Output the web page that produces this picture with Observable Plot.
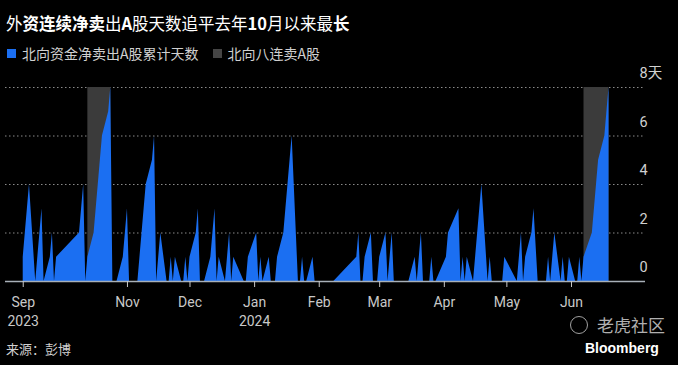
<!DOCTYPE html>
<html>
<head>
<meta charset="utf-8">
<script src="https://cdn.jsdelivr.net/npm/d3@7"></script>
<script src="https://cdn.jsdelivr.net/npm/@observablehq/plot@0.6"></script>
<style>
  html, body { margin: 0; padding: 0; background: #000; }
  #wrap { position: relative; width: 678px; height: 365px; overflow: hidden; background: #000;
          font-family: "Noto Sans CJK SC", "Noto Sans", sans-serif; }
  .title { position: absolute; left: 6px; top: 12px; font-size: 16.5px; line-height: 22px; color: #fff; white-space: nowrap; }
  .title b { font-weight: 700; }
  .legend { position: absolute; left: 7px; top: 43px; font-size: 14px; line-height: 20px; color: #d0d0d0; white-space: nowrap; display: flex; align-items: center; }
  .legend .sw { display: inline-block; width: 9px; height: 9px; margin-right: 6px; }
  .legend .item { display: inline-flex; align-items: center; margin-right: 14px; }
  #chart { position: absolute; left: 0; top: 62px; }
  .caption { position: absolute; left: 6px; top: 340px; font-size: 13px; line-height: 18px; color: #d0d0d0; }
  .brand { position: absolute; left: 585px; top: 339px; font-family: "Liberation Sans", Arial, sans-serif; font-weight: 700; font-size: 14px; line-height: 18px; color: #fff; }
  .wm { position: absolute; left: 570px; top: 314px; display: flex; align-items: center; color: #b0b0b0; font-size: 17px; line-height: 22px; }
  .wm .ic { width: 16px; height: 16px; border: 1.5px solid #a0a0a0; border-radius: 50%; margin-right: 9px; }
</style>
</head>
<body>
<div id="wrap">
  <div class="title">外<b>资连续净卖</b>出<b>A</b>股天数追平去年<b>10</b>月以来最<b>长</b></div>
  <div class="legend">
    <span class="item"><span class="sw" style="background:#1b6ff2"></span>北向资金净卖出A股累计天数</span>
    <span class="item"><span class="sw" style="background:#454545"></span>北向八连卖A股</span>
  </div>
  <div id="chart"></div>
  <div class="wm"><span class="ic"></span>老虎社区</div>
  <div class="caption">来源：彭博</div>
  <div class="brand">Bloomberg</div>
</div>
<script>
// Trading days and consecutive net-sell day counts (northbound funds)
const dates = [
  "2023-09-12","2023-09-13","2023-09-14","2023-09-15","2023-09-18","2023-09-19","2023-09-20","2023-09-21","2023-09-22",
  "2023-09-25","2023-09-26","2023-09-27","2023-09-28","2023-10-09","2023-10-10","2023-10-11","2023-10-12","2023-10-13",
  "2023-10-16","2023-10-17","2023-10-18","2023-10-19","2023-10-20","2023-10-23","2023-10-24","2023-10-25","2023-10-26",
  "2023-10-27","2023-10-30","2023-10-31","2023-11-01","2023-11-02","2023-11-03","2023-11-06","2023-11-07","2023-11-08",
  "2023-11-09","2023-11-10","2023-11-13","2023-11-14","2023-11-15","2023-11-16","2023-11-17","2023-11-20","2023-11-21",
  "2023-11-22","2023-11-23","2023-11-24","2023-11-27","2023-11-28","2023-11-29","2023-11-30","2023-12-01","2023-12-04",
  "2023-12-05","2023-12-06","2023-12-07","2023-12-08","2023-12-11","2023-12-12","2023-12-13","2023-12-14","2023-12-15",
  "2023-12-18","2023-12-19","2023-12-20","2023-12-21","2023-12-22","2023-12-27","2023-12-28","2023-12-29","2024-01-02",
  "2024-01-03","2024-01-04","2024-01-05","2024-01-08","2024-01-09","2024-01-10","2024-01-11","2024-01-12","2024-01-15",
  "2024-01-16","2024-01-17","2024-01-18","2024-01-19","2024-01-22","2024-01-23","2024-01-24","2024-01-25","2024-01-26",
  "2024-01-29","2024-01-30","2024-01-31","2024-02-01","2024-02-02","2024-02-05","2024-02-06","2024-02-07","2024-02-08",
  "2024-02-19","2024-02-20","2024-02-21","2024-02-22","2024-02-23","2024-02-26","2024-02-27","2024-02-28","2024-02-29",
  "2024-03-01","2024-03-04","2024-03-05","2024-03-06","2024-03-07","2024-03-08","2024-03-11","2024-03-12","2024-03-13",
  "2024-03-14","2024-03-15","2024-03-18","2024-03-19","2024-03-20","2024-03-21","2024-03-22","2024-03-25","2024-03-26",
  "2024-03-27","2024-03-28","2024-04-02","2024-04-03","2024-04-08","2024-04-09","2024-04-10","2024-04-11","2024-04-12",
  "2024-04-15","2024-04-16","2024-04-17","2024-04-18","2024-04-19","2024-04-22","2024-04-23","2024-04-24","2024-04-25",
  "2024-04-26","2024-04-29","2024-04-30","2024-05-06","2024-05-07","2024-05-08","2024-05-09","2024-05-10","2024-05-13",
  "2024-05-14","2024-05-16","2024-05-17","2024-05-20","2024-05-21","2024-05-22","2024-05-23","2024-05-24","2024-05-27",
  "2024-05-28","2024-05-29","2024-05-30","2024-05-31","2024-06-03","2024-06-04","2024-06-05","2024-06-06","2024-06-07",
  "2024-06-11","2024-06-12","2024-06-13","2024-06-14","2024-06-17","2024-06-18","2024-06-19"
];
const sellDays = [
  1,2,3,4,0,1,2,3,0,
  1,2,0,1,2,3,4,0,1,
  2,3,4,5,6,7,8,0,0,
  0,1,2,3,0,0,0,1,2,
  3,4,5,6,0,1,2,0,0,
  1,0,1,0,0,1,0,1,2,
  3,0,0,0,1,2,3,0,1,
  0,1,2,0,1,0,0,1,2,
  0,1,0,1,0,0,0,1,2,
  3,4,5,6,0,0,1,0,0,
  1,0,0,0,0,0,0,0,0,
  1,2,0,0,1,2,0,0,0,
  1,2,0,1,2,0,0,0,0,
  0,0,1,0,1,2,0,0,1,
  0,0,1,2,3,0,1,0,1,
  0,1,2,3,4,0,1,0,0,
  0,0,1,0,1,2,0,1,2,
  3,0,0,0,1,0,1,2,0,
  1,0,0,1,0,0,1,0,1,
  2,3,4,5,6,7,8
];
// 8-day net-selling streaks (shaded)
const streakStart = ["2023-10-13", "2024-06-07"];
const streakEnd   = ["2023-10-24", "2024-06-19"];
const streakLen   = [8, 8];
// x-axis ticks
const tickDates  = ["2023-09-12","2023-11-01","2023-12-01","2024-01-01","2024-02-01","2024-03-01","2024-04-01","2024-05-01","2024-06-01"];
const tickLabels = ["Sep\n2023","Nov","Dec","Jan\n2024","Feb","Mar","Apr","May","Jun"];
const yTicks = [0, 2, 4, 6, 8];

const data = dates.map((d, i) => ({date: new Date(d), v: sellDays[i]}));
const bands = streakStart.map((s, i) => ({x1: new Date(s), x2: new Date(streakEnd[i]), top: streakLen[i]}));
const tickDateObjs = tickDates.map(d => new Date(d));
const labelByTime = new Map(tickDateObjs.map((d, i) => [+d, tickLabels[i]]));

const blue = "#1b6ff2";

const chart = Plot.plot({
  width: 678,
  height: 275,
  marginLeft: 5,
  marginRight: 33,
  marginTop: 25,
  marginBottom: 56,
  style: {background: "#000", color: "#c8c8c8", fontFamily: "Roboto, 'Noto Sans CJK SC', sans-serif", fontSize: "14px"},
  x: {type: "utc", domain: [new Date("2023-09-03T12:00:00Z"), new Date("2024-07-06T12:00:00Z")]},
  y: {domain: [0, 8]},
  marks: [
    Plot.ruleY(yTicks.filter(d => d > 0), {stroke: "#8a8a8a", strokeWidth: 1, strokeDasharray: "1.5,2.5"}),
    Plot.rect(bands, {x1: "x1", x2: "x2", y1: 0, y2: "top", fill: "#3b3b3b"}),
    Plot.areaY(data, {x: "date", y: "v", fill: blue, curve: "linear"}),
    Plot.ruleY([0], {stroke: "#a8b0b8", strokeWidth: 1.5}),
    Plot.axisX({
      ticks: tickDateObjs,
      tickFormat: d => labelByTime.get(+d),
      tickSize: 6,
      tickPadding: 7,
      stroke: "#c8c8c8",
      fill: "#c8c8c8",
      fontSize: 14,
      lineHeight: 1.3,
      label: null
    }),
    Plot.axisY({
      anchor: "right",
      ticks: yTicks,
      tickSize: 0,
      tickPadding: 0,
      dx: -6,
      dy: -14,
      textAnchor: "start",
      fill: "#d0d0d0",
      fontSize: 14.5,
      tickFormat: d => d === 8 ? "8天" : String(d),
      label: null
    })
  ]
});
document.getElementById("chart").appendChild(chart);
</script>
</body>
</html>
